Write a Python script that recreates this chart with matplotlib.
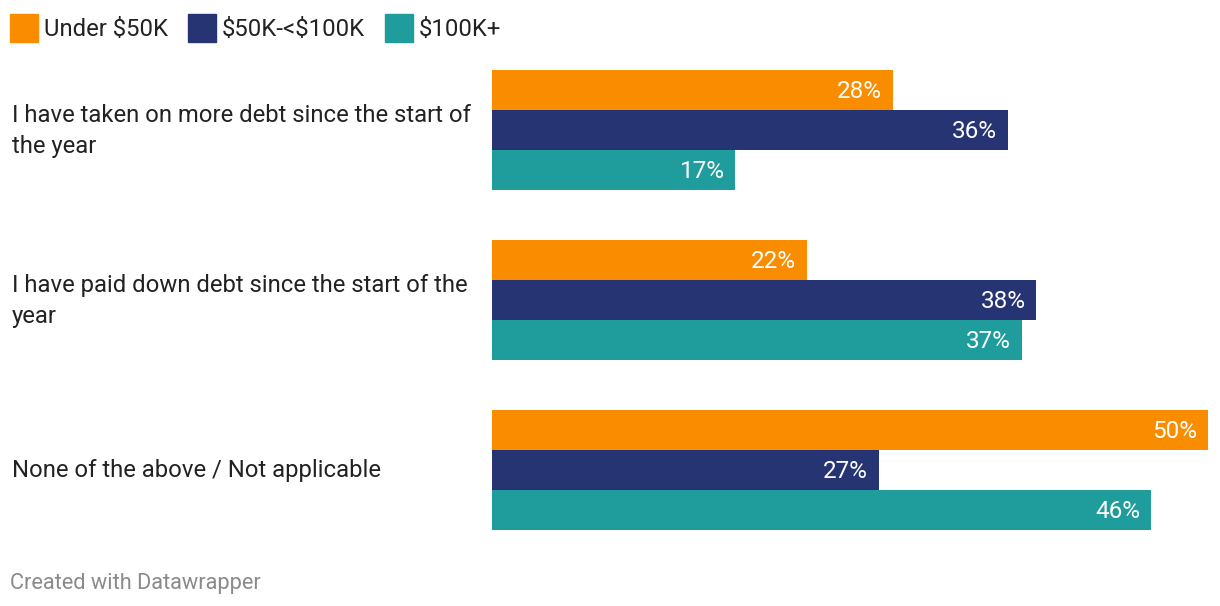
import numpy as np
import matplotlib.pyplot as plt
from matplotlib.patches import Rectangle

plt.rcParams['font.family'] = ['Roboto', 'DejaVu Sans']
plt.rcParams['text.parse_math'] = False

# data
categories = [
    "I have taken on more debt since the start of\nthe year",
    "I have paid down debt since the start of the\nyear",
    "None of the above / Not applicable",
]
series_names = ["Under $50K", "$50K-<$100K", "$100K+"]
under_50k = [28, 22, 50]
mid_50_100k = [36, 38, 27]
over_100k = [17, 37, 46]
colors = ["#FA8C00", "#263473", "#1F9C9C"]

values = [under_50k, mid_50_100k, over_100k]

W, H = 1220, 606
fig = plt.figure(figsize=(W / 100, H / 100), dpi=100)

# axes spans bar area in pixels
x0, x1 = 492, 1208
y_top, y_bot = 70, 530
ax = fig.add_axes([x0 / W, 1 - y_bot / H, (x1 - x0) / W, (y_bot - y_top) / H])

group_gap = 4.25  # in bar-height units
n_ser = len(series_names)
for s, (vals, col) in enumerate(zip(values, colors)):
    ys = np.arange(len(categories)) * group_gap + s
    ax.barh(ys, vals, height=1.0, color=col, edgecolor='none')
    for y, v in zip(ys, vals):
        ax.text(v - 0.75, y + 0.05, f"{v}%", ha='right', va='center',
                color='white', fontsize=17.5)

ax.set_xlim(0, 50)
ax.set_ylim((len(categories) - 1) * group_gap + n_ser - 0.5, -0.5)
ax.axis('off')

# category labels
for g, cat in enumerate(categories):
    yc = g * group_gap + (n_ser - 1) / 2
    ax.text(-480 / 716 * 50, yc + 0.02, cat, ha='left', va='center',
            fontsize=17.2, color='#222222', linespacing=1.45)

# legend
lx = 10
for name, col in zip(series_names, colors):
    fig.patches.append(Rectangle((lx / W, 1 - 42 / H), 28 / W, 28 / H,
                                 transform=fig.transFigure, color=col))
    t = fig.text((lx + 34) / W, 1 - 29 / H, name, ha='left', va='center',
                 fontsize=17.2, color='#222222')
    fig.canvas.draw()
    bb = t.get_window_extent()
    lx = bb.x1 + 20

fig.text(10 / W, 1 - 583 / H, "Created with Datawrapper", ha='left',
         va='center', fontsize=15.7, color='#8a8a8a')

fig.savefig("out.png", dpi=100)
